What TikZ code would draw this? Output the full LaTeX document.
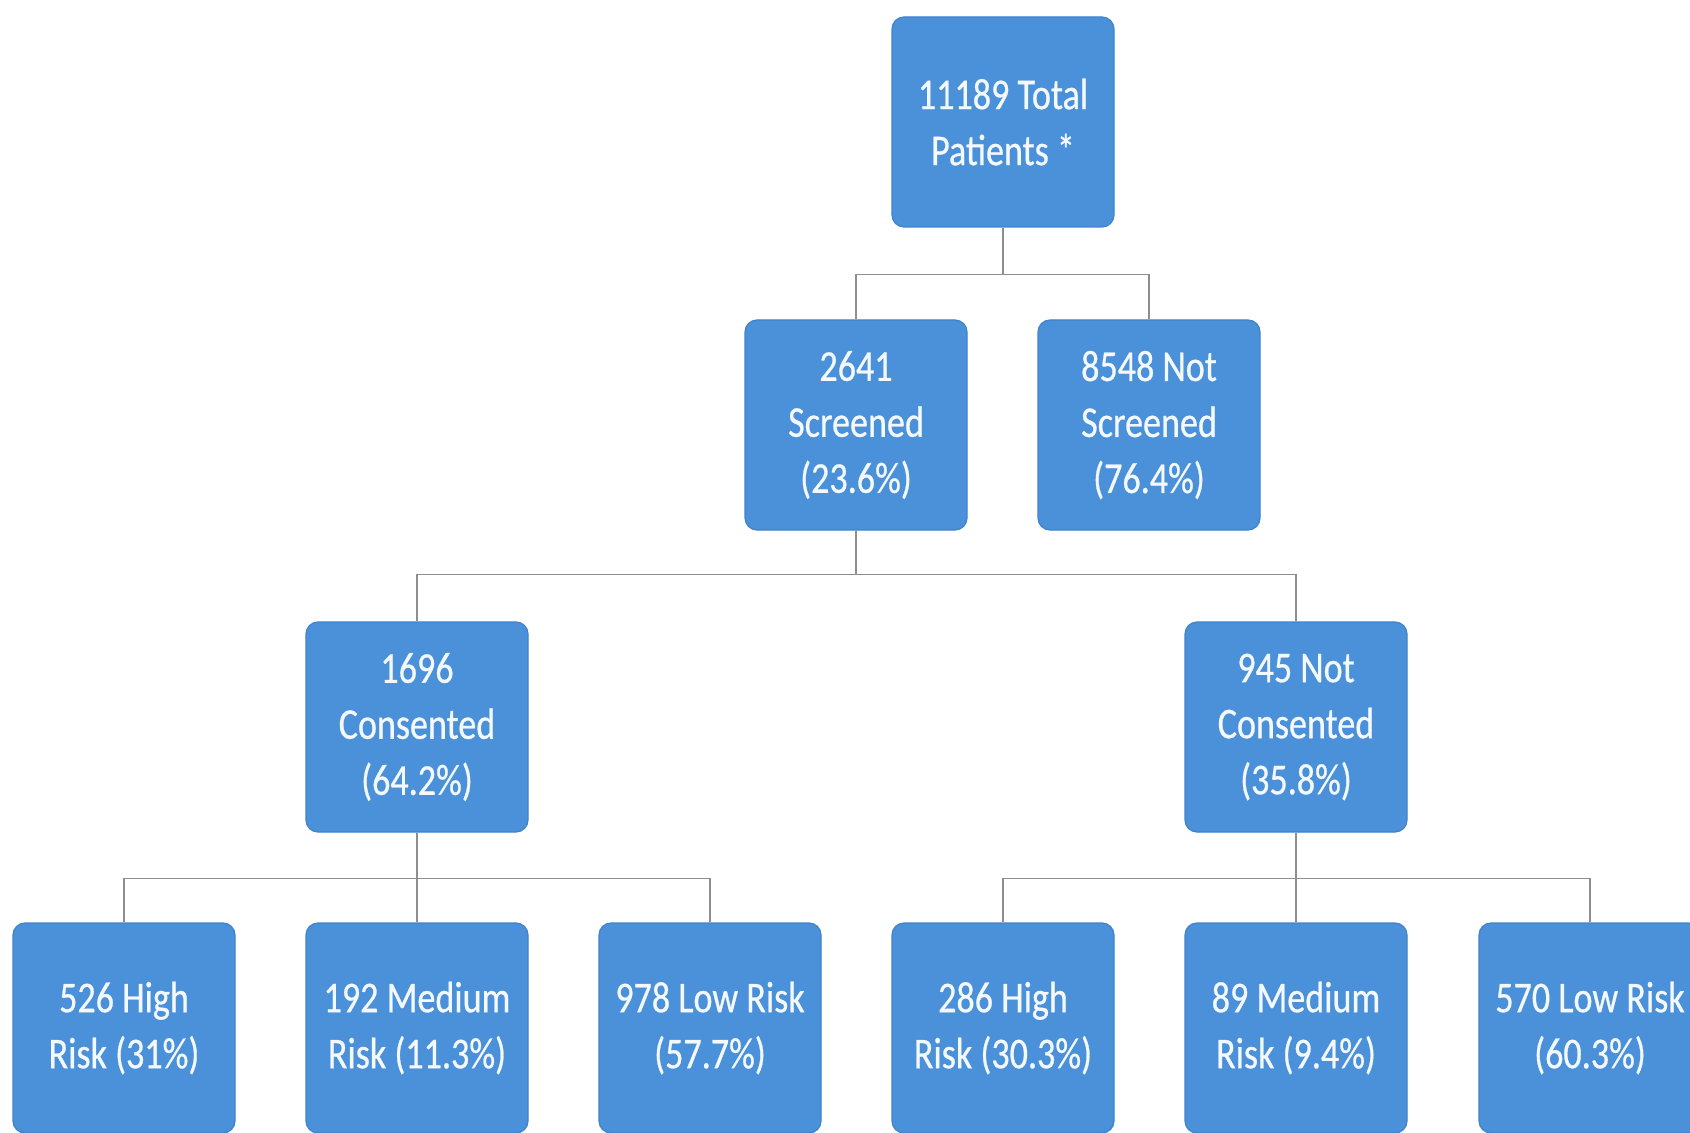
\documentclass[tikz,border=0pt]{standalone}
\usepackage{fontspec}
\setmainfont{Carlito}[FakeStretch=0.82,FakeBold=0.6]
\definecolor{boxblue}{HTML}{4B91DA}
\definecolor{boxedge}{HTML}{3F83CC}
\definecolor{linegray}{HTML}{8E8E8E}
\definecolor{textwhite}{HTML}{F4F8FF}
\begin{document}
\begin{tikzpicture}[x=0.5pt,y=-0.5pt,
  box/.style={rectangle, rounded corners=6pt, fill=boxblue, draw=boxedge, line width=0.6pt,
    minimum width=111pt, minimum height=105pt, inner sep=0pt, align=center,
    text=textwhite, font=\fontsize{22}{28}\selectfont},
  conn/.style={draw=linegray, line width=0.8pt}]
\fill[white] (0,0) rectangle (1690,1133);
\useasboundingbox (0,0) rectangle (1690,1133);
\clip (0,0) rectangle (1690,1133);

\node[box] (top) at (1003,122) {11189 Total\\Patients *};
\node[box] (scr) at (856,425) {2641\\Screened\\(23.6\%)};
\node[box] (nscr) at (1149,425) {8548 Not\\Screened\\(76.4\%)};
\node[box] (con) at (417,727) {1696\\Consented\\(64.2\%)};
\node[box] (ncon) at (1296,727) {945 Not\\Consented\\(35.8\%)};
\node[box] (h1) at (124,1028) {526 High\\Risk (31\%)};
\node[box] (m1) at (417,1028) {192 Medium\\Risk (11.3\%)};
\node[box] (l1) at (710,1028) {978 Low Risk\\(57.7\%)};
\node[box] (h2) at (1003,1028) {286 High\\Risk (30.3\%)};
\node[box] (m2) at (1296,1028) {89 Medium\\Risk (9.4\%)};
\node[box] (l2) at (1590,1028) {570 Low Risk\\(60.3\%)};

\draw[conn] (top.south) -- ++(0,47) -| (scr.north);
\draw[conn] (top.south) -- ++(0,47) -| (nscr.north);
\draw[conn] (scr.south) -- ++(0,44) -| (con.north);
\draw[conn] (scr.south) -- ++(0,44) -| (ncon.north);
\draw[conn] (con.south) -- ++(0,46) -| (h1.north);
\draw[conn] (con.south) -- (m1.north);
\draw[conn] (con.south) -- ++(0,46) -| (l1.north);
\draw[conn] (ncon.south) -- ++(0,46) -| (h2.north);
\draw[conn] (ncon.south) -- (m2.north);
\draw[conn] (ncon.south) -- ++(0,46) -| (l2.north);
\end{tikzpicture}
\end{document}
